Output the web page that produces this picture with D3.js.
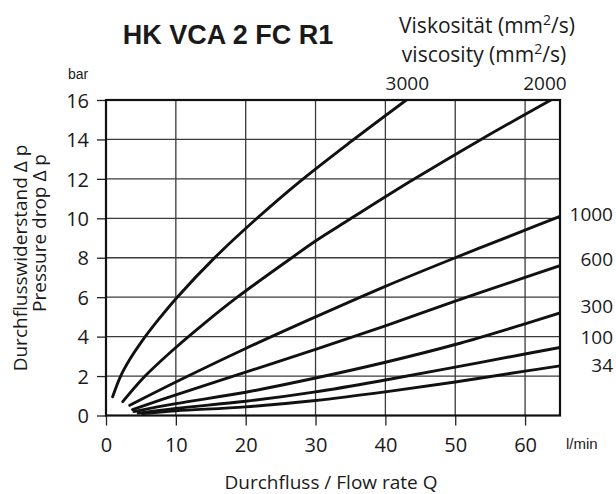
<!DOCTYPE html>
<html><head><meta charset="utf-8">
<script src="https://cdn.jsdelivr.net/npm/d3@7"></script>
<style>
html,body{margin:0;padding:0;background:#fff;}
svg{display:block;}
text{fill:#1a1a1a;}
</style></head>
<body>
<svg id="chart" width="616" height="494"></svg>
<script>
// ---- data ----
const xTicks = [0, 10, 20, 30, 40, 50, 60];
const yTicks = [0, 2, 4, 6, 8, 10, 12, 14, 16];
const viscosities = ["3000", "2000", "1000", "600", "300", "100", "34"];
const q3000 = [0.95, 2.1, 3.5, 5.2, 7.5, 10.2, 15.5, 21.3, 27.7, 35.1, 43.0];
const p3000 = [0.95, 2.0, 2.9, 3.8, 4.86, 6.0, 7.98, 9.9, 11.85, 13.9, 16];
const q2000 = [2.4, 5.6, 10, 14, 18.8, 26.4, 30, 34.9, 43.7, 53.7, 63.7];
const p2000 = [0.7, 2.0, 3.45, 4.65, 6.0, 7.95, 8.85, 9.95, 11.9, 14.0, 16];
const q1000 = [3.4, 10, 20, 30, 40, 50, 60, 65];
const p1000 = [0.52, 1.7, 3.4, 5.0, 6.55, 8.0, 9.4, 10.1];
const q600 = [3.8, 10, 20, 30, 40, 50, 60, 65];
const p600 = [0.3, 1.05, 2.2, 3.35, 4.55, 5.8, 7.0, 7.6];
const q300 = [4.0, 10, 20, 30, 40, 50, 60, 65];
const p300 = [0.2, 0.6, 1.18, 1.9, 2.7, 3.6, 4.65, 5.2];
const q100 = [4.6, 10, 20, 30, 40, 50, 60, 65];
const p100 = [0.12, 0.36, 0.72, 1.2, 1.8, 2.45, 3.12, 3.45];
const q34 = [5.2, 10, 20, 30, 40, 50, 60, 65];
const p34 = [0.1, 0.24, 0.44, 0.76, 1.2, 1.7, 2.25, 2.52];

const seriesQ = [q3000, q2000, q1000, q600, q300, q100, q34];
const seriesP = [p3000, p2000, p1000, p600, p300, p100, p34];

// ---- layout ----
const svg = d3.select("#chart");
const L = 106, R = 560, T = 100, B = 415.5;
const x = d3.scaleLinear().domain([0, 65]).range([L, R]);
const y = d3.scaleLinear().domain([0, 16]).range([B, T]);
const labelFont = "'Open Sans', 'Noto Sans', sans-serif";
const narrowFont = "'Liberation Sans Narrow', 'Liberation Sans', sans-serif";

// grid
const grid = svg.append("g");
grid.selectAll("line.v").data(xTicks.slice(1)).enter().append("line")
  .attr("x1", d => x(d)).attr("x2", d => x(d)).attr("y1", T).attr("y2", B)
  .attr("stroke", "#3a3a3a").attr("stroke-width", 1.3);
grid.selectAll("line.h").data(yTicks.slice(1)).enter().append("line")
  .attr("x1", L).attr("x2", R).attr("y1", d => y(d)).attr("y2", d => y(d))
  .attr("stroke", "#3a3a3a").attr("stroke-width", 1.3);

// axes
const xAxis = svg.append("g").attr("transform", `translate(0,${B})`)
  .call(d3.axisBottom(x).tickValues(xTicks).tickSize(10).tickPadding(7));
const yAxis = svg.append("g").attr("transform", `translate(${L},0)`)
  .call(d3.axisLeft(y).tickValues(yTicks).tickSize(9).tickPadding(8));
[xAxis, yAxis].forEach(a => {
  a.select(".domain").remove();
  a.selectAll(".tick line").attr("stroke", "#222").attr("stroke-width", 1.3);
  a.selectAll(".tick text").attr("font-family", labelFont).attr("font-size", 20).attr("fill", "#1a1a1a");
});
xAxis.selectAll(".tick text").attr("dy", "0.95em");
yAxis.selectAll(".tick text").attr("dy", "0.36em");

// curves
svg.append("clipPath").attr("id", "plotclip").append("rect")
  .attr("x", L).attr("y", T).attr("width", R - L).attr("height", B - T);
const line = d3.line().x(d => x(d[0])).y(d => y(d[1])).curve(d3.curveCatmullRom.alpha(0.5));
svg.append("g").attr("clip-path", "url(#plotclip)")
  .selectAll("path").data(seriesQ.map((qs, i) => qs.map((q, j) => [q, seriesP[i][j]])))
  .enter().append("path")
  .attr("d", line).attr("fill", "none").attr("stroke", "#111")
  .attr("stroke-width", 2.9).attr("stroke-linecap", "round");

// border
svg.append("rect").attr("x", L).attr("y", T).attr("width", R - L).attr("height", B - T)
  .attr("fill", "none").attr("stroke", "#111").attr("stroke-width", 2.2);

// viscosity labels
const topLab = [[viscosities[0], q3000[q3000.length - 1], 1], [viscosities[1], q2000[q2000.length - 1], -6]];
svg.selectAll("text.top").data(topLab).enter().append("text")
  .attr("x", d => x(d[1]) + d[2]).attr("y", 90).attr("text-anchor", "middle")
  .attr("font-family", labelFont).attr("font-size", 19).text(d => d[0]);
const rightLab = viscosities.slice(2).map((v, i) => [v, seriesP[i + 2][seriesP[i + 2].length - 1]]);
const rightY = [221, 266, 313, 344, 372];
svg.selectAll("text.right").data(rightLab).enter().append("text")
  .attr("x", 613).attr("y", (d, i) => rightY[i]).attr("text-anchor", "end")
  .attr("font-family", labelFont).attr("font-size", 19).text(d => d[0]);

// title & headings
svg.append("text").attr("x", 228).attr("y", 44).attr("text-anchor", "middle")
  .attr("font-family", "'Liberation Sans', Arial, sans-serif").attr("font-weight", "bold")
  .attr("font-size", 27).attr("fill", "#000").text("HK VCA 2 FC R1");

function viscText(txt, yPos, xPos) {
  const t = svg.append("text").attr("x", xPos).attr("y", yPos).attr("text-anchor", "middle")
    .attr("font-family", labelFont).attr("font-size", 21).attr("fill", "#333");
  t.append("tspan").text(txt + " (mm");
  t.append("tspan").attr("font-size", 14).attr("dy", -8).text("2");
  t.append("tspan").attr("dy", 8).text("/s)");
}
viscText("Viskosität", 33, 487);
viscText("viscosity", 62, 484);

svg.append("text").attr("x", 78).attr("y", 79).attr("text-anchor", "middle")
  .attr("font-family", narrowFont).attr("font-size", 14).text("bar");
svg.append("text").attr("x", 566).attr("y", 449)
  .attr("font-family", narrowFont).attr("font-size", 15).text("l/min");

svg.append("text").attr("x", 331).attr("y", 489).attr("text-anchor", "middle")
  .attr("font-family", labelFont).attr("font-size", 19).text("Durchfluss / Flow rate  Q");

svg.append("text").attr("transform", "translate(27,258) rotate(-90)").attr("text-anchor", "middle")
  .attr("font-family", labelFont).attr("font-size", 19).text("Durchflusswiderstand \u0394 p");
svg.append("text").attr("transform", "translate(46,233) rotate(-90)").attr("text-anchor", "middle")
  .attr("font-family", labelFont).attr("font-size", 19).text("Pressure drop \u0394 p");
</script>
</body></html>
